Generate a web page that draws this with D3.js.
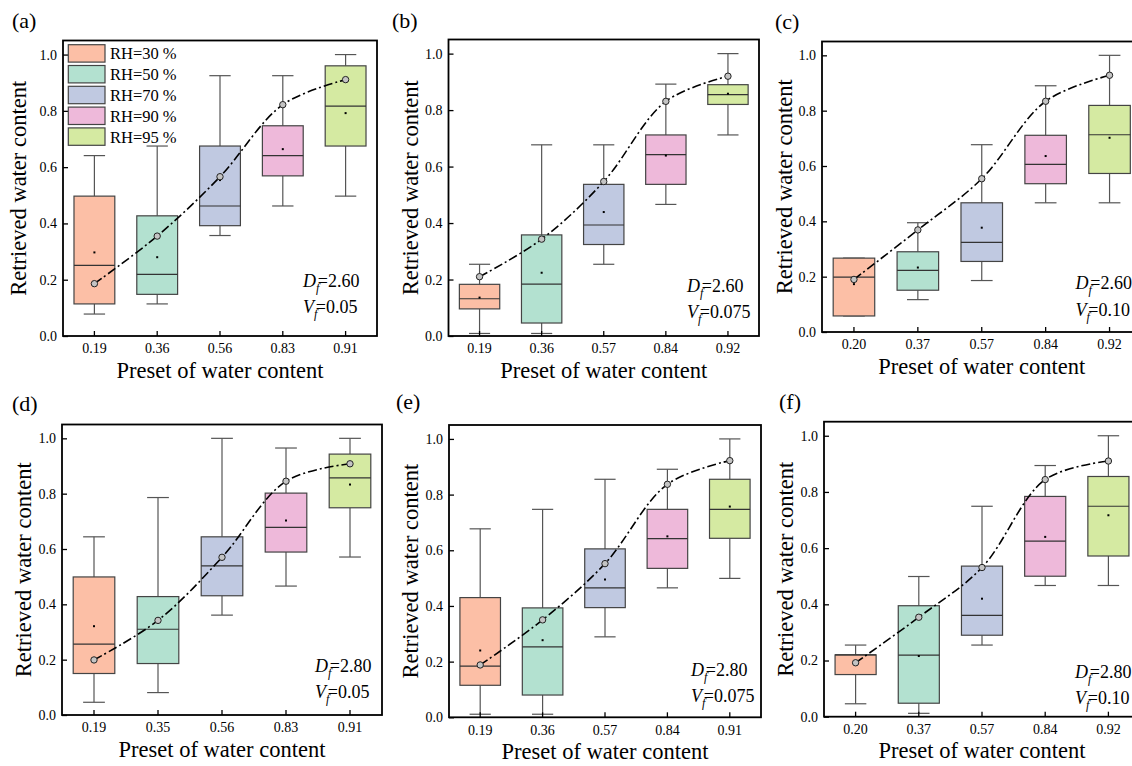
<!DOCTYPE html>
<html>
<head>
<meta charset="utf-8">
<script src="https://cdn.jsdelivr.net/npm/d3@7"></script>
<style>
  body { margin: 0; background: #fff; }
  svg text { font-family: "Liberation Serif", "Times New Roman", serif; fill: #000; }
</style>
</head>
<body>
<svg id="chart" width="1132" height="766"></svg>
<script>
// values, one row per panel (a)-(f)
const panelLabels = ['(a)', '(b)', '(c)', '(d)', '(e)', '(f)'];
const dfValues = ['2.60', '2.60', '2.60', '2.80', '2.80', '2.80'];
const vfValues = ['0.05', '0.075', '0.10', '0.05', '0.075', '0.10'];
const rhLabels = ['RH=30 %', 'RH=50 %', 'RH=70 %', 'RH=90 %', 'RH=95 %'];
const rhColors = ['#fcbfa6', '#b3e1d0', '#c0c9e1', '#eeb9da', '#d5eaa2'];

const presetTicks = [
  ['0.19', '0.36', '0.56', '0.83', '0.91'],
  ['0.19', '0.36', '0.57', '0.84', '0.92'],
  ['0.20', '0.37', '0.57', '0.84', '0.92'],
  ['0.19', '0.35', '0.56', '0.83', '0.91'],
  ['0.19', '0.36', '0.57', '0.84', '0.91'],
  ['0.20', '0.37', '0.57', '0.84', '0.92']
];
const whiskerLow = [
  [0.078, 0.114, 0.357, 0.462, 0.497],
  [0.009, 0.009, 0.254, 0.466, 0.712],
  [0.058, 0.117, 0.186, 0.467, 0.467],
  [0.046, 0.081, 0.361, 0.466, 0.571],
  [0.011, 0.011, 0.289, 0.465, 0.499],
  [0.046, 0.012, 0.255, 0.467, 0.467]
];
const q1 = [
  [0.114, 0.148, 0.392, 0.569, 0.675],
  [0.096, 0.046, 0.324, 0.537, 0.820],
  [0.058, 0.151, 0.255, 0.536, 0.573],
  [0.150, 0.186, 0.431, 0.589, 0.749],
  [0.115, 0.080, 0.394, 0.535, 0.643],
  [0.150, 0.048, 0.290, 0.500, 0.572]
];
const medians = [
  [0.251, 0.219, 0.462, 0.641, 0.817],
  [0.132, 0.184, 0.393, 0.642, 0.855],
  [0.198, 0.223, 0.324, 0.606, 0.713],
  [0.256, 0.310, 0.539, 0.678, 0.857],
  [0.184, 0.253, 0.465, 0.642, 0.747],
  [0.220, 0.219, 0.361, 0.625, 0.749]
];
const q3 = [
  [0.497, 0.427, 0.675, 0.747, 0.960],
  [0.183, 0.358, 0.537, 0.712, 0.890],
  [0.267, 0.290, 0.467, 0.711, 0.819],
  [0.499, 0.428, 0.644, 0.802, 0.943],
  [0.430, 0.393, 0.605, 0.747, 0.855],
  [0.220, 0.395, 0.536, 0.784, 0.855]
];
const whiskerHigh = [
  [0.641, 0.675, 0.925, 0.925, 1.000],
  [0.254, 0.677, 0.677, 0.892, 1.000],
  [0.267, 0.395, 0.677, 0.890, 1.000],
  [0.644, 0.786, 1.000, 0.965, 1.000],
  [0.677, 0.747, 0.855, 0.891, 1.000],
  [0.255, 0.499, 0.749, 0.894, 1.000]
];
const means = [
  [0.297, 0.280, 0.554, 0.664, 0.792],
  [0.136, 0.224, 0.439, 0.639, 0.858],
  [0.173, 0.233, 0.377, 0.636, 0.702],
  [0.321, 0.344, 0.568, 0.703, 0.833],
  [0.240, 0.277, 0.495, 0.650, 0.757],
  [0.190, 0.216, 0.420, 0.640, 0.717]
];
// preset points joined by the dash-dot curve
const presetPoints = [
  [0.186, 0.355, 0.566, 0.822, 0.911],
  [0.210, 0.343, 0.547, 0.831, 0.920],
  [0.190, 0.369, 0.554, 0.834, 0.928],
  [0.199, 0.342, 0.570, 0.845, 0.908],
  [0.188, 0.350, 0.552, 0.837, 0.922],
  [0.192, 0.354, 0.531, 0.844, 0.910]
];

// panel frames and text offsets (layout only)
const frames = [
  {l: 63,  r: 377,    t: 40.5,  b: 336,   yt: -37, lx: 12,  ly: 28,    ax: -74, a1: -49, a2: -23},
  {l: 448.5, r: 759,  t: 39.5,  b: 336,   yt: -31, lx: 392, ly: 28,    ax: -72, a1: -44, a2: -18},
  {l: 822, r: 1141.5, t: 41.5,  b: 332,   yt: -30, lx: 775, ly: 28.5,  ax: -66, a1: -43, a2: -16},
  {l: 62,  r: 382,    t: 424.5, b: 715,   yt: -31, lx: 12,  ly: 410.5, ax: -67, a1: -43, a2: -17},
  {l: 449, r: 761,    t: 425,   b: 717.3, yt: -31, lx: 396, ly: 408.5, ax: -70, a1: -41, a2: -15},
  {l: 824, r: 1140,   t: 421.7, b: 716.7, yt: -31, lx: 779, ly: 408.5, ax: -65, a1: -39, a2: -13}
];

const svg = d3.select('#chart');

frames.forEach((f, i) => {
  const g = svg.append('g');
  const x = d3.scaleBand().domain(presetTicks[i]).range([f.l, f.r]).padding(0);
  const y = d3.scaleLinear().domain([0, 1.05]).range([f.b, f.t]);
  const bw = x.bandwidth() * 0.65;
  const cw = x.bandwidth() * 0.34;

  const rows = presetTicks[i].map((p, j) => ({
    p, j,
    lo: whiskerLow[i][j], q1: q1[i][j], med: medians[i][j],
    q3: q3[i][j], hi: whiskerHigh[i][j], mean: means[i][j]
  }));

  const box = g.selectAll('g.box').data(rows).enter().append('g')
    .attr('class', 'box')
    .attr('transform', d => `translate(${x(d.p) + x.bandwidth() / 2},0)`);

  // whiskers
  box.append('line').attr('x1', 0).attr('x2', 0)
    .attr('y1', d => y(d.lo)).attr('y2', d => y(d.q1))
    .attr('stroke', '#555').attr('stroke-width', 1.2);
  box.append('line').attr('x1', 0).attr('x2', 0)
    .attr('y1', d => y(d.q3)).attr('y2', d => y(d.hi))
    .attr('stroke', '#555').attr('stroke-width', 1.2);
  box.append('line').attr('x1', -cw / 2).attr('x2', cw / 2)
    .attr('y1', d => y(d.lo)).attr('y2', d => y(d.lo))
    .attr('stroke', '#555').attr('stroke-width', 1.2);
  box.append('line').attr('x1', -cw / 2).attr('x2', cw / 2)
    .attr('y1', d => y(d.hi)).attr('y2', d => y(d.hi))
    .attr('stroke', '#555').attr('stroke-width', 1.2);

  box.append('rect')
    .attr('x', -bw / 2).attr('width', bw)
    .attr('y', d => y(d.q3)).attr('height', d => y(d.q1) - y(d.q3))
    .attr('fill', d => rhColors[d.j])
    .attr('stroke', '#444').attr('stroke-width', 1.2);

  box.append('line').attr('x1', -bw / 2).attr('x2', bw / 2)
    .attr('y1', d => y(d.med)).attr('y2', d => y(d.med))
    .attr('stroke', '#333').attr('stroke-width', 1.2);

  box.append('rect')
    .attr('x', -1).attr('width', 2)
    .attr('y', d => y(d.mean) - 1).attr('height', 2)
    .attr('fill', '#000');

  // dash-dot curve through preset points
  const pts = presetTicks[i].map((p, j) => [x(p) + x.bandwidth() / 2, y(presetPoints[i][j])]);
  g.append('path')
    .attr('d', d3.line().curve(d3.curveCatmullRom.alpha(0.5))(pts))
    .attr('fill', 'none')
    .attr('stroke', '#000')
    .attr('stroke-width', 1.6)
    .attr('stroke-dasharray', '9,3,2,3');
  g.selectAll('circle.pt').data(pts).enter().append('circle')
    .attr('class', 'pt')
    .attr('cx', d => d[0]).attr('cy', d => d[1]).attr('r', 3.2)
    .attr('fill', '#c4c4c4').attr('stroke', '#222').attr('stroke-width', 1);

  // axes (ticks point inward)
  const xAxis = g.append('g')
    .attr('transform', `translate(0,${f.b})`)
    .call(d3.axisBottom(x).tickSizeInner(-5).tickSizeOuter(0).tickPadding(7.5));
  const yAxis = g.append('g')
    .attr('transform', `translate(${f.l},0)`)
    .call(d3.axisLeft(y).tickValues([0, 0.2, 0.4, 0.6, 0.8, 1.0])
      .tickFormat(d3.format('.1f')).tickSizeInner(-5).tickSizeOuter(0).tickPadding(6));
  [xAxis, yAxis].forEach(a => {
    a.select('.domain').remove();
    a.selectAll('.tick line').attr('stroke', '#000').attr('stroke-width', 1.3);
    a.selectAll('.tick text').style('font-size', '14px')
      .style('font-family', '"Liberation Serif", serif').attr('fill', '#000');
  });

  g.append('rect')
    .attr('x', f.l).attr('y', f.t)
    .attr('width', f.r - f.l).attr('height', f.b - f.t)
    .attr('fill', 'none').attr('stroke', '#000').attr('stroke-width', 1.8);

  // titles
  g.append('text')
    .attr('x', (f.l + f.r) / 2).attr('y', f.b + 41.5)
    .attr('text-anchor', 'middle')
    .style('font-size', '22.5px')
    .text('Preset of water content');
  g.append('text')
    .attr('transform', `translate(${f.l + f.yt},${(f.t + f.b) / 2}) rotate(-90)`)
    .attr('text-anchor', 'middle')
    .style('font-size', '22.5px')
    .text('Retrieved water content');
  g.append('text')
    .attr('x', f.lx).attr('y', f.ly)
    .style('font-size', '22px')
    .text(panelLabels[i]);

  // Df / Vf annotation
  const ann = [['D', dfValues[i], f.a1], ['V', vfValues[i], f.a2]];
  ann.forEach(([sym, val, dy]) => {
    const t = g.append('text')
      .attr('x', f.r + f.ax).attr('y', f.b + dy)
      .style('font-size', '18px');
    t.append('tspan').style('font-style', 'italic').text(sym);
    t.append('tspan').style('font-style', 'italic').style('font-size', '12px')
      .attr('dy', 5).text('f');
    t.append('tspan').attr('dy', -5).attr('dx', -1.5).text('=' + val);
  });

  // legend only in panel (a)
  if (i === 0) {
    const leg = g.selectAll('g.leg').data(rhLabels).enter().append('g')
      .attr('class', 'leg')
      .attr('transform', (d, k) => `translate(68.3,${44.7 + k * 20.8})`);
    leg.append('rect')
      .attr('width', 36.7).attr('height', 17.4)
      .attr('fill', (d, k) => rhColors[k])
      .attr('stroke', '#444').attr('stroke-width', 1.2);
    leg.append('text')
      .attr('x', 41.7).attr('y', 14.6)
      .style('font-size', '16.5px')
      .text(d => d);
  }
});
</script>
</body>
</html>
